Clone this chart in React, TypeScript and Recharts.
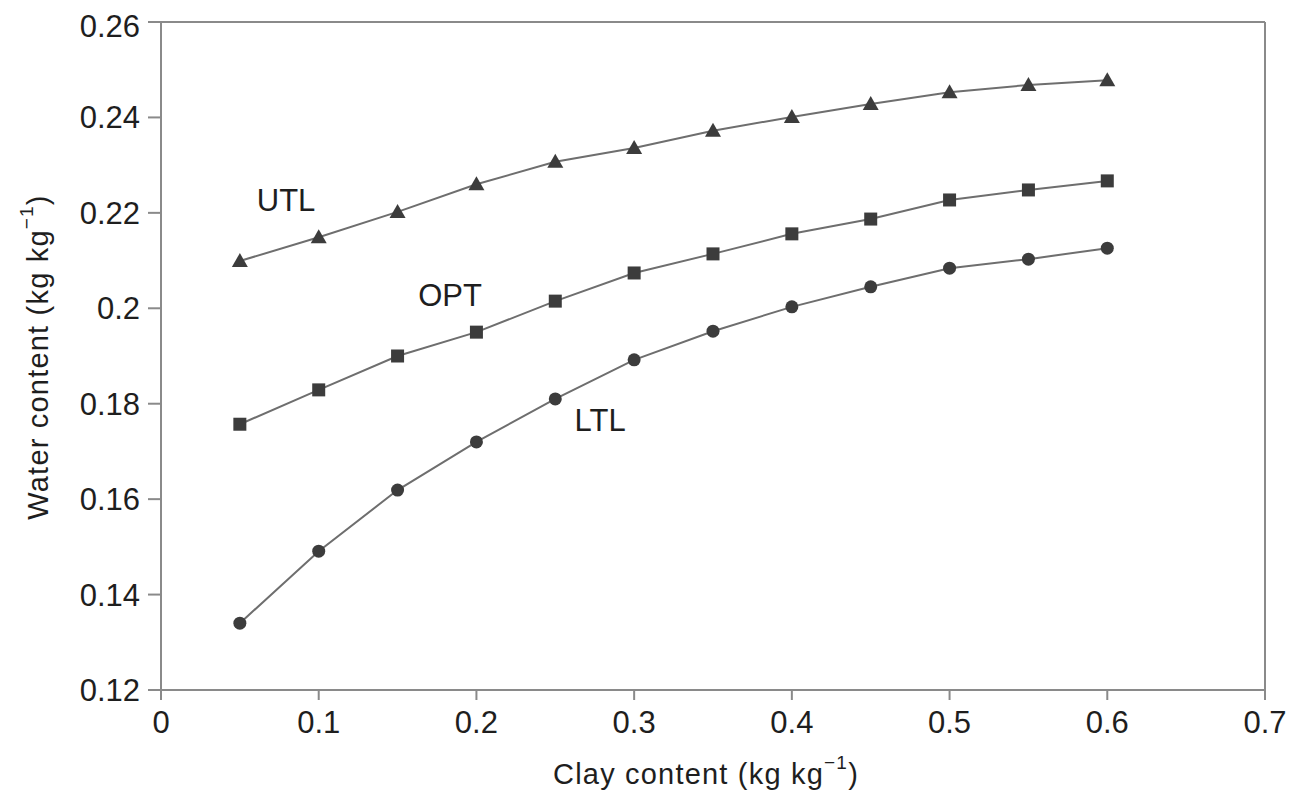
import React from "react";
import {
  LineChart,
  Line,
  XAxis,
  YAxis,
  ReferenceLine,
  ReferenceDot,
} from "recharts";

const clay = [0.05, 0.1, 0.15, 0.2, 0.25, 0.3, 0.35, 0.4, 0.45, 0.5, 0.55, 0.6];
const utl = [0.2099, 0.2149, 0.2202, 0.226, 0.2307, 0.2336, 0.2372, 0.2401, 0.2428, 0.2453, 0.2468, 0.2478];
const opt = [0.1757, 0.1829, 0.19, 0.195, 0.2015, 0.2074, 0.2114, 0.2156, 0.2187, 0.2227, 0.2248, 0.2267];
const ltl = [0.134, 0.1491, 0.1619, 0.172, 0.181, 0.1892, 0.1952, 0.2003, 0.2045, 0.2084, 0.2103, 0.2126];

const xTicks = [0, 0.1, 0.2, 0.3, 0.4, 0.5, 0.6, 0.7];
const yTicks = [0.12, 0.14, 0.16, 0.18, 0.2, 0.22, 0.24, 0.26];

const annotations = [
  { text: "UTL", x: 0.0793, y: 0.2227 },
  { text: "OPT", x: 0.1833, y: 0.2028 },
  { text: "LTL", x: 0.2784, y: 0.1766 },
];

const data = clay.map((c, i) => ({ clay: c, utl: utl[i], opt: opt[i], ltl: ltl[i] }));

const FONT = "'Liberation Sans', Arial, sans-serif";
const TEXT = "#1e1e1e";
const LINE = "#6e6e6e";
const MARK = "#3c3c3c";
const AXIS = "#8a8a8a";

const Triangle = (props: any) => {
  const { cx, cy } = props;
  if (cx == null || cy == null) return null;
  const s = 8;
  return (
    <path
      d={`M${cx},${cy - s} L${cx + s},${cy + s * 0.75} L${cx - s},${cy + s * 0.75} Z`}
      fill={MARK}
      stroke="none"
    />
  );
};

const Square = (props: any) => {
  const { cx, cy } = props;
  if (cx == null || cy == null) return null;
  const s = 6.5;
  return <rect x={cx - s} y={cy - s} width={2 * s} height={2 * s} fill={MARK} />;
};

const Circle = (props: any) => {
  const { cx, cy } = props;
  if (cx == null || cy == null) return null;
  return <circle cx={cx} cy={cy} r={6.5} fill={MARK} />;
};

const YLabel = (props: any) => {
  const vb = props.viewBox || {};
  const cx = 30;
  const cy = vb.y + vb.height / 2 + 1;
  return (
    <text
      x={cx}
      y={cy}
      transform={`rotate(-90, ${cx}, ${cy})`}
      textAnchor="middle"
      dominantBaseline="central"
      fontFamily={FONT}
      fontSize={29}
      letterSpacing={1.2}
      fill={TEXT}
    >
      Water content (kg kg
      <tspan dy={-12} fontSize={19}>−1</tspan>
      <tspan dy={12}>)</tspan>
    </text>
  );
};

const XLabel = (props: any) => {
  const vb = props.viewBox || {};
  const cx = vb.x + vb.width / 2 - 7;
  const cy = 766;
  return (
    <text
      x={cx}
      y={cy}
      textAnchor="middle"
      dominantBaseline="central"
      fontFamily={FONT}
      fontSize={29}
      letterSpacing={1.2}
      fill={TEXT}
    >
      Clay content (kg kg
      <tspan dy={-12} fontSize={19}>−1</tspan>
      <tspan dy={12}>)</tspan>
    </text>
  );
};

export default function App() {
  return (
    <div style={{ width: 1293, height: 786, background: "#fff" }}>
      <LineChart
        width={1293}
        height={786}
        data={data}
        margin={{ top: 14, right: 36, left: 0, bottom: 0 }}
      >
        <XAxis
          dataKey="clay"
          type="number"
          domain={[0, 0.7]}
          ticks={xTicks}
          allowDataOverflow
          height={104}
          stroke={AXIS}
          strokeWidth={2}
          tickSize={10}
          tickLine={{ stroke: AXIS, strokeWidth: 2 }}
          tick={{ fontFamily: FONT, fontSize: 31, fill: TEXT, dy: 9 }}
          label={<XLabel />}
        />
        <YAxis
          type="number"
          domain={[0.12, 0.26]}
          ticks={yTicks}
          allowDataOverflow
          width={153}
          stroke={AXIS}
          strokeWidth={2}
          tickSize={13}
          tickLine={{ stroke: AXIS, strokeWidth: 2 }}
          tick={{ fontFamily: FONT, fontSize: 31, fill: TEXT, dx: -6 }}
          label={<YLabel />}
        />
        <ReferenceLine y={0.26} stroke={AXIS} strokeWidth={2} ifOverflow="visible" />
        <ReferenceLine x={0.7} stroke={AXIS} strokeWidth={2} ifOverflow="visible" />
        <Line
          dataKey="utl"
          type="linear"
          stroke={LINE}
          strokeWidth={2}
          dot={<Triangle />}
          activeDot={false}
          isAnimationActive={false}
        />
        <Line
          dataKey="opt"
          type="linear"
          stroke={LINE}
          strokeWidth={2}
          dot={<Square />}
          activeDot={false}
          isAnimationActive={false}
        />
        <Line
          dataKey="ltl"
          type="linear"
          stroke={LINE}
          strokeWidth={2}
          dot={<Circle />}
          activeDot={false}
          isAnimationActive={false}
        />
        {annotations.map((a) => (
          <ReferenceDot
            key={a.text}
            x={a.x}
            y={a.y}
            r={0}
            fill="none"
            stroke="none"
            label={{
              value: a.text,
              position: "center",
              fontFamily: FONT,
              fontSize: 31,
              fill: TEXT,
            }}
          />
        ))}
      </LineChart>
    </div>
  );
}
